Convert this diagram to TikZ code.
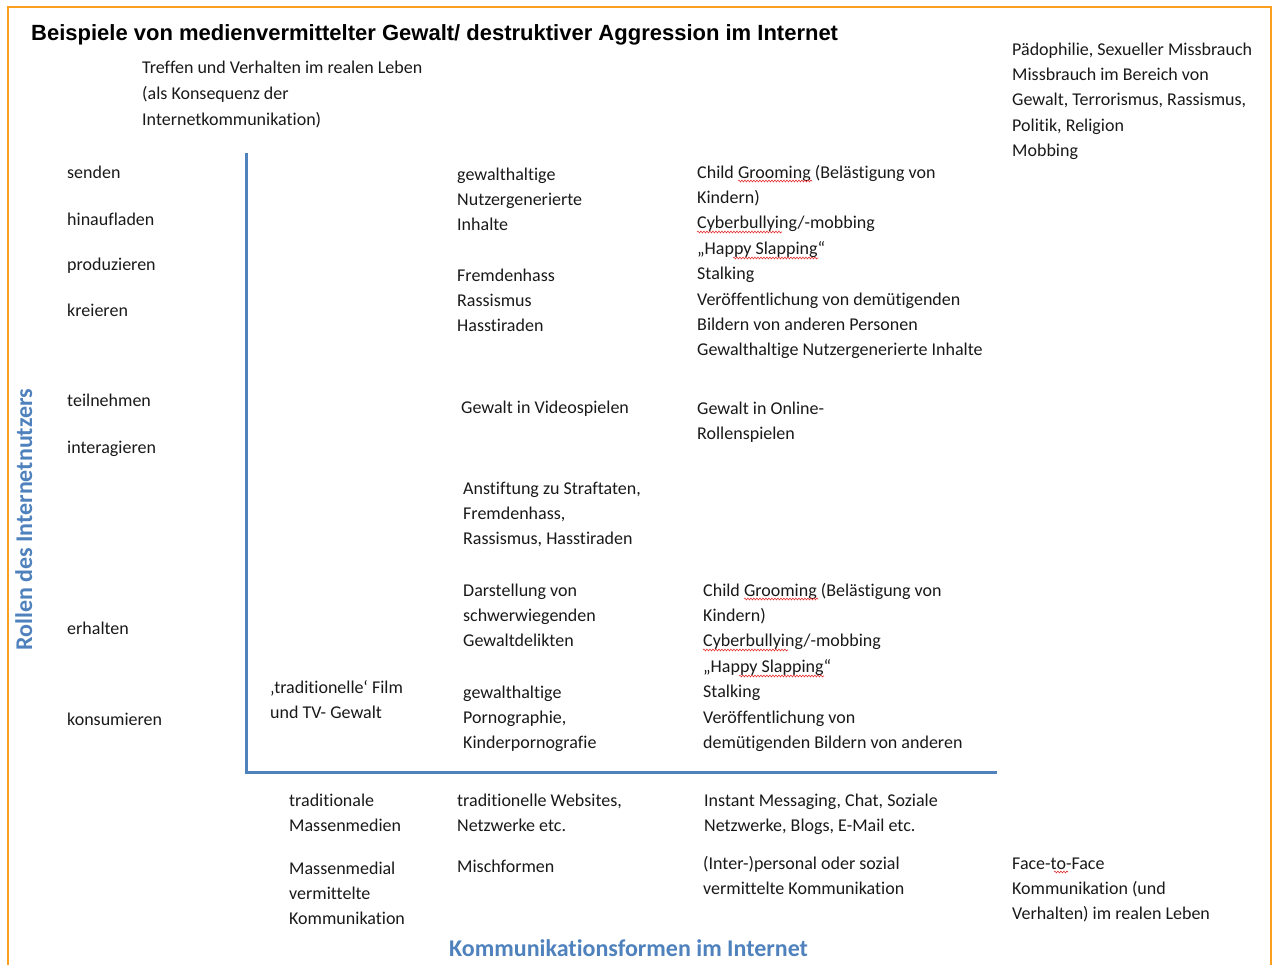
\documentclass[tikz,border=0pt]{standalone}
\usepackage{fontspec}
\setmainfont{Carlito}[Ligatures={TeX,NoCommon}]
\newfontfamily\titlefont{Liberation Sans}
\usetikzlibrary{decorations.pathmorphing}
\definecolor{axisblue}{RGB}{79,129,189}
\definecolor{frameorange}{RGB}{250,160,30}
\definecolor{txt}{RGB}{25,25,25}
\definecolor{wavered}{RGB}{230,50,50}
\newcommand\blk[1]{\begin{tabular}[t]{@{}l@{}}#1\end{tabular}}
\begin{document}
\begin{tikzpicture}[x=1pt,y=-1pt,
  lbl/.style={anchor=base west, inner sep=0pt, text=txt, font=\fontsize{18}{25.4}\selectfont},
  axislbl/.style={anchor=base west, inner sep=0pt, text=axisblue, font=\fontsize{24}{28}\selectfont\bfseries},
  axisline/.style={draw=axisblue, line width=3pt},
  frameline/.style={draw=frameorange, line width=2pt},
  spell/.style={draw=wavered, line width=0.6pt, decorate, decoration={snake, amplitude=0.9pt, segment length=3pt}}]
\useasboundingbox (0,0) rectangle (1274,964);
% frame
\draw[frameline] (8,990) -- (8,7) -- (1271,7) -- (1271,990);
% title
\node[anchor=base west, inner sep=0pt, font={\titlefont\fontsize{22}{25}\selectfont\bfseries}] (title) at (31,40) {Beispiele von medienvermittelter Gewalt/ destruktiver Aggression im Internet};
% axes
\coordinate (ytop) at (246,153);
\coordinate (orig) at (246,772);
\coordinate (xend) at (997,772);
\draw[axisline] (ytop) -- (orig) -- (xend);
% axis labels
\node[axislbl, rotate=90] (ylab) at (32,651) {Rollen des Internetnutzers};
\node[axislbl] (xlab) at (449,956) {Kommunikationsformen im Internet};
% top texts
\node[lbl, font=\fontsize{18}{26}\selectfont] (real) at (142,73) {\blk{Treffen und Verhalten im realen Leben\\(als Konsequenz der\\Internetkommunikation)}};
\node[lbl] (misc) at (1012,55) {\blk{Pädophilie, Sexueller Missbrauch\\Missbrauch im Bereich von\\Gewalt, Terrorismus, Rassismus,\\Politik, Religion\\Mobbing}};
% roles
\node[lbl] (r1) at (67,178) {senden};
\node[lbl] (r2) at (67,225) {hinaufladen};
\node[lbl] (r3) at (67,270) {produzieren};
\node[lbl] (r4) at (67,316) {kreieren};
\node[lbl] (r5) at (67,406) {teilnehmen};
\node[lbl] (r6) at (67,453) {interagieren};
\node[lbl] (r7) at (67,634) {erhalten};
\node[lbl] (r8) at (67,725) {konsumieren};
% column 2
\node[lbl] (c2a) at (457,180) {\blk{gewalthaltige\\Nutzergenerierte\\Inhalte}};
\node[lbl] (c2b) at (457,281) {\blk{Fremdenhass\\Rassismus\\Hasstiraden}};
\node[lbl] (c2c) at (461,413) {Gewalt in Videospielen};
\node[lbl] (c2d) at (463,494) {\blk{Anstiftung zu Straftaten,\\Fremdenhass,\\Rassismus, Hasstiraden}};
\node[lbl] (c2e) at (463,596) {\blk{Darstellung von\\schwerwiegenden\\Gewaltdelikten}};
\node[lbl] (c2f) at (463,698) {\blk{gewalthaltige\\Pornographie,\\Kinderpornografie}};
\node[lbl] (c1f) at (270,693) {\blk{‚traditionelle‘ Film\\und TV- Gewalt}};
% column 3
\node[lbl] (c3a) at (697,178) {\blk{Child Grooming (Belästigung von\\Kindern)\\Cyberbullying/-mobbing\\„Happy Slapping“\\Stalking\\Veröffentlichung von demütigenden\\Bildern von anderen Personen\\Gewalthaltige Nutzergenerierte Inhalte}};
\node[lbl] (c3b) at (697,414) {\blk{Gewalt in Online-\\Rollenspielen}};
\node[lbl] (c3c) at (703,596) {\blk{Child Grooming (Belästigung von\\Kindern)\\Cyberbullying/-mobbing\\„Happy Slapping“\\Stalking\\Veröffentlichung von\\demütigenden Bildern von anderen}};
% bottom
\node[lbl] (b1) at (289,806) {\blk{traditionale\\Massenmedien}};
\node[lbl] (b2) at (457,806) {\blk{traditionelle Websites,\\Netzwerke etc.}};
\node[lbl] (b3) at (704,806) {\blk{Instant Messaging, Chat, Soziale\\Netzwerke, Blogs, E-Mail etc.}};
\node[lbl] (b4) at (289,874) {\blk{Massenmedial\\vermittelte\\Kommunikation}};
\node[lbl] (b5) at (457,872) {Mischformen};
\node[lbl] (b6) at (703,869) {\blk{(Inter-)personal oder sozial\\vermittelte Kommunikation}};
\node[lbl] (b7) at (1012,869) {\blk{Face-to-Face\\Kommunikation (und\\Verhalten) im realen Leben}};
% spell-check waves
\draw[spell] (738,181) -- (812,181);
\draw[spell] (697,232) -- (782,232);
\draw[spell] (733,258) -- (818,258);
\draw[spell] (744,599) -- (818,599);
\draw[spell] (703,650) -- (788,650);
\draw[spell] (739,676) -- (824,676);
\draw[spell] (1054,872) -- (1068,872);
\end{tikzpicture}
\end{document}
